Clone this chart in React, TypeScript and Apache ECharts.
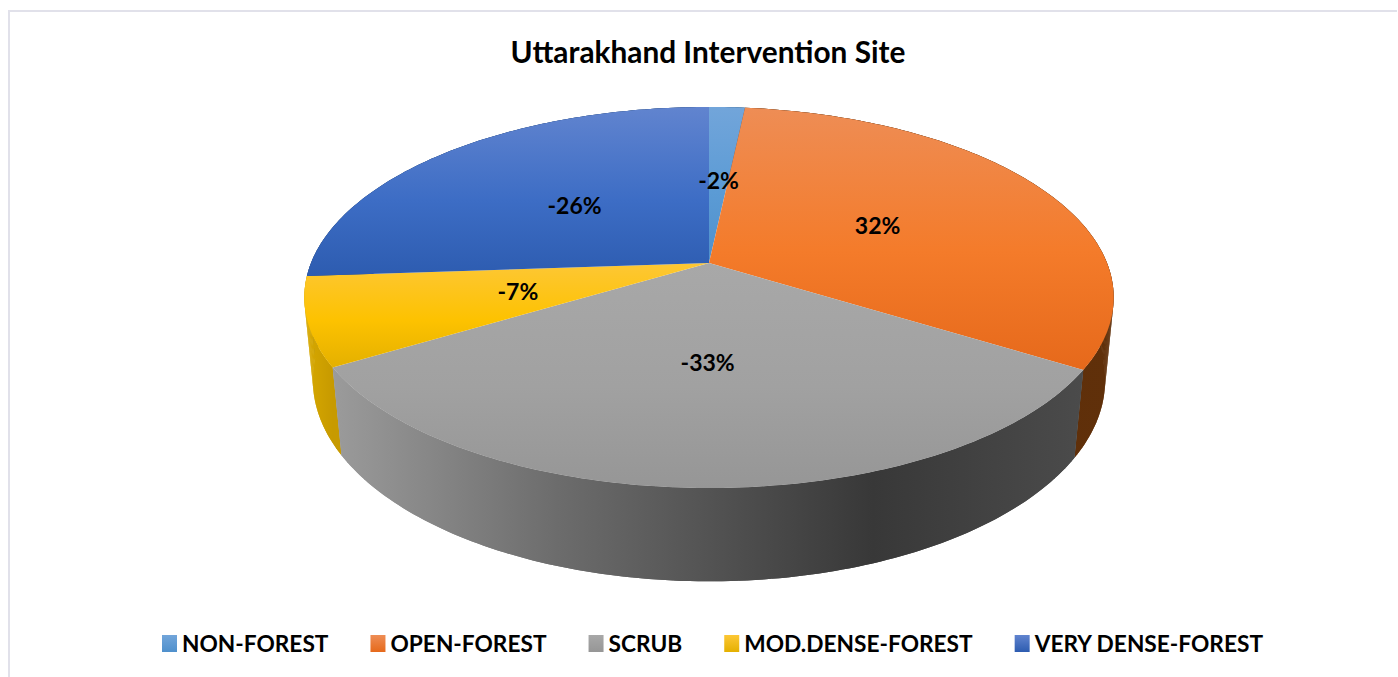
import React, { useEffect, useRef } from "react";
import * as echarts from "echarts";

const titleText = "Uttarakhand Intervention Site";
const categories = ["NON-FOREST", "OPEN-FOREST", "SCRUB", "MOD.DENSE-FOREST", "VERY DENSE-FOREST"];
const shares = [1.7, 32.1, 32.6, 7.49, 26.11];
const sliceLabels = ["-2%", "32%", "-33%", "-7%", "-26%"];
const wallOrder = [4, 0, 1, 3, 2];
const faceStops = [
  ["#72a5da", "#5b9bd5", "#4f90cc"],
  ["#ee8d55", "#f47b2a", "#e6691b"],
  ["#a8a8a8", "#a1a1a1", "#969696"],
  ["#fdc735", "#fdc200", "#e4b000"],
  ["#6184cf", "#3d6dc5", "#2d5cb0"],
];
const wallStops: [number, string][][] = [
  [[0, "#2c5a85"], [1, "#2c5a85"]],
  [[0, "#5a2b07"], [1, "#60300a"]],
  [[0, "#9b9b9b"], [0.3, "#6c6c6c"], [0.72, "#383838"], [1, "#4b4b4b"]],
  [[0, "#d8a900"], [1, "#c79a00"]],
  [[0, "#24487f"], [1, "#24487f"]],
];

// perspective model of the disc: upper rim and lower rim
const CX = 709, CY = 263;
const UPPER = { rx: 398, ry: 184.3, p: 0.181, drop: 0 };
const LOWER = { rx: 390, ry: 195, p: 0.175, drop: 82 };
const project = (frac: number, r = 1, m = UPPER) => {
  const a = frac * 2 * Math.PI;
  const c = Math.sin(a) * r;
  const s = -Math.cos(a) * r;
  const d = 1 - m.p * s;
  return [CX + (m.rx * c) / d, CY + (m.ry * s) / d + m.drop];
};
const total = shares.reduce((a, b) => a + b, 0);
const startOf = (i: number) => shares.slice(0, i).reduce((a, b) => a + b, 0) / total;
const arc = (i: number, value: number, m = UPPER) => {
  const from = startOf(i), to = from + value / total;
  const n = Math.max(4, Math.ceil((to - from) * 360));
  const pts: number[][] = [];
  for (let k = 0; k <= n; k++) pts.push(project(from + ((to - from) * k) / n, 1, m));
  return pts;
};
const vGrad = (stops: string[], y0: number, y1: number) =>
  new echarts.graphic.LinearGradient(0, y0, 0, y1, [
    { offset: 0, color: stops[0] },
    { offset: 0.55, color: stops[1] },
    { offset: 1, color: stops[2] },
  ], true);

export default function App() {
  const ref = useRef<HTMLDivElement>(null);
  useEffect(() => {
    const chart = echarts.init(ref.current!, undefined, { renderer: "svg" });
    const wallSeries = {
      type: "custom", name: "walls", coordinateSystem: "none", z: 1, silent: true,
      data: wallOrder.map((i) => [shares[i], i]),
      renderItem: (_: any, api: any) => {
        const v = api.value(0), i = api.value(1);
        const top = arc(i, v);
        const bottom = arc(i, v, LOWER);
        const xs = top.map((p) => p[0]);
        const fill = new echarts.graphic.LinearGradient(Math.min(...xs), 0, Math.max(...xs), 0,
          wallStops[i].map(([offset, color]) => ({ offset, color })), true);
        // the whole wall, then one quad per step so that the silhouette between the rims is filled too
        const whole = {
          type: "polygon",
          shape: { points: top.concat(bottom.slice().reverse()) },
          style: { fill },
        };
        const quads = top.slice(1).map((p, k) => ({
          type: "polygon",
          shape: { points: [top[k], p, bottom[k + 1], bottom[k]] },
          style: { fill },
        }));
        return { type: "group", children: [whole, ...quads] };
      },
    };
    const faceSeries = categories.map((name, i) => ({
      type: "custom", name, coordinateSystem: "none", z: 2, silent: true,
      itemStyle: {
        color: new echarts.graphic.LinearGradient(0, 0, 0, 1, [
          { offset: 0, color: faceStops[i][0] },
          { offset: 1, color: faceStops[i][2] },
        ]),
      },
      data: [shares[i]],
      renderItem: (_: any, api: any) => {
        const pts = arc(i, api.value(0));
        pts.push([CX, CY]);
        const ys = pts.map((p) => p[1]);
        return {
          type: "polygon",
          shape: { points: pts },
          style: { fill: vGrad(faceStops[i], Math.min(...ys), Math.max(...ys)) },
        };
      },
    }));
    const labelSeries = {
      type: "custom", name: "labels", coordinateSystem: "none", z: 3, silent: true,
      data: shares.map((v, i) => [v, i]),
      renderItem: (_: any, api: any) => {
        const v = api.value(0), i = api.value(1);
        const p = project(startOf(i) + v / total / 2, 0.49);
        return {
          type: "text",
          x: p[0], y: p[1],
          style: {
            text: sliceLabels[i], align: "center", verticalAlign: "middle",
            fill: "#000", font: "bold 23px Lato",
          },
        };
      },
    };
    chart.setOption({
      animation: false,
      backgroundColor: "#ffffff",
      title: {
        text: titleText, left: 703, top: 31, textAlign: "center",
        textStyle: { fontFamily: "Lato", fontWeight: "bold", fontSize: 29.8, color: "#000" },
      },
      legend: {
        data: categories.map((name) => ({ name, icon: "rect" })), left: 157, top: 627,
        itemWidth: 15, itemHeight: 17, itemGap: 42, selectedMode: false,
        textStyle: { fontFamily: "Lato", fontWeight: "bold", fontSize: 22.7, color: "#000" },
      },
      graphic: [
        { type: "polyline", silent: true, shape: { points: [[9, 677], [9, 11], [1397, 11]] },
          style: { stroke: "#e1e1ea", lineWidth: 2, fill: "none" } },
      ],
      series: [wallSeries, ...faceSeries, labelSeries],
    });
    return () => chart.dispose();
  }, []);
  return <div ref={ref} style={{ position: "fixed", left: 0, top: 0, width: 1398, height: 677 }} />;
}
